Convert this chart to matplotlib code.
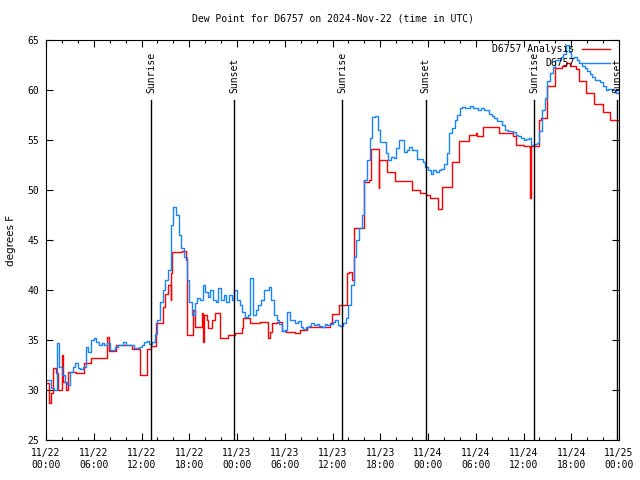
import numpy as np
import matplotlib
matplotlib.use("Agg")
import matplotlib.pyplot as plt
import matplotlib.dates as mdates

plt.rcParams['font.family'] = ['DejaVu Sans Mono', 'DejaVu Sans']
plt.rcParams['font.size'] = 7

start = np.datetime64('2024-11-22T00:00')

# D6757 obs, every 20 minutes from 11/22 00:00 UTC (deg F)
obs_step_min = 20
obs_vals = [
    31.0, 31.0, 30.2, 30.0, 34.7, 32.3, 31.5, 30.8, 30.5, 31.8,
    32.3, 32.7, 32.2, 32.1, 32.3, 34.3, 33.8, 35.0, 35.2, 34.8,
    34.5, 34.7, 34.5, 34.7, 34.0, 34.0, 34.3, 34.5, 34.5, 34.8,
    34.5, 34.5, 34.5, 34.2, 34.2, 34.3, 34.5, 34.8, 34.9, 34.6,
    34.8, 35.6, 37.0, 38.8, 40.0, 41.0, 42.0, 46.5, 48.3, 47.5,
    45.5, 44.2, 43.3, 41.0, 38.8, 37.5,
    38.7, 39.2, 39.0, 40.5, 39.8, 39.3, 40.0, 39.0, 38.8, 40.2,
    39.0, 39.5, 38.8, 39.5, 39.0, 40.0, 39.0, 38.5, 37.8, 37.3,
    37.5, 41.2, 37.5, 38.0, 38.5, 39.0, 40.0, 40.0, 40.3, 39.0,
    37.5, 37.0, 36.6, 35.9, 36.0, 37.8, 37.0, 37.0, 36.7, 36.9,
    36.3, 36.1, 36.3, 36.4, 36.7, 36.5, 36.6, 36.4, 36.3, 36.6,
    36.5, 36.6, 36.8, 37.0, 36.5,
    36.4, 36.7, 37.2, 38.5, 40.5, 43.3, 45.0, 46.2, 47.5, 51.0,
    53.0, 55.2, 57.3, 57.4, 56.0, 54.8, 54.8, 53.7, 53.0, 53.3,
    53.2, 54.2, 55.0, 55.0, 53.8, 54.0, 54.3, 54.0, 54.0, 53.1,
    53.1, 52.8, 52.3, 52.0, 51.6, 52.0, 51.8, 52.0, 52.1, 52.6,
    53.7, 55.7, 56.2, 57.0, 57.5, 58.2, 58.3, 58.2, 58.2, 58.4,
    58.2, 58.2, 58.0,
    58.2, 58.0, 58.0, 57.6, 57.4, 57.2, 56.9, 56.9, 56.5, 56.0,
    55.9, 55.9, 55.8, 55.5, 55.4, 55.2, 55.0, 55.1, 55.2, 54.5,
    54.6, 54.7, 55.9, 58.0, 59.2, 60.9, 61.7, 62.3, 63.0, 63.0,
    63.3, 63.6, 64.5, 63.8, 63.2, 63.3, 63.0, 62.7, 62.4, 62.2,
    61.9, 61.6, 61.3, 61.0, 61.0, 60.8, 60.4, 60.0, 60.1, 60.1,
    60.0, 59.7, 59.7,
]

# analysis, step changes (hours since start, value)
ana_hours = [0.0, 0.38, 0.67, 0.92, 1.21, 1.51, 2.05, 2.18, 2.51, 2.76,
             3.81, 4.77, 5.7, 7.7, 7.92, 8.76, 10.85, 11.81, 12.73, 13.15,
             13.86, 14.7, 14.91, 15.37, 15.66, 15.75, 15.87, 17.13, 17.55, 17.76,
             18.5, 18.7, 19.56, 19.77, 19.9, 20.2, 20.4, 20.8, 21.2, 21.9,
             22.9, 23.75, 24.6, 24.8, 25.6, 26.9, 27.9, 28.1, 28.4, 29.0,
             29.6, 30.2, 31.3, 31.9, 32.8, 35.7, 35.9, 36.8, 37.8, 38.1,
             38.4, 38.7, 39.9, 40.0, 40.6, 40.8, 41.8, 41.9, 42.8, 43.9,
             46.0, 47.0, 47.8, 48.2, 49.2, 49.8, 51.0, 51.9, 53.1, 54.0,
             54.1, 54.95, 56.96, 58.7, 59.0, 60.0, 60.8, 60.9, 61.9, 62.2,
             63.0, 64.0, 64.8, 65.4, 65.8, 66.6, 67.0, 67.9, 68.9, 69.95,
             70.9, 72.0]
ana_vals = [30.7, 28.7, 29.7, 32.2, 31.7, 30.0, 33.5, 30.8, 30.0, 31.8,
            31.7, 32.7, 33.2, 35.3, 33.9, 34.5, 34.1, 31.5, 34.1, 34.4,
            36.7, 38.3, 39.6, 40.5, 39.0, 41.7, 43.8, 43.9, 43.0, 35.5,
            38.0, 36.3, 37.7, 34.8, 37.5, 37.0, 36.2, 37.0, 37.7, 35.2,
            35.5, 35.7, 36.2, 37.2, 36.7, 36.8, 35.2, 35.8, 36.7, 36.8,
            35.9, 35.8, 35.7, 36.0, 36.3, 36.7, 37.6, 38.5, 41.7, 41.8,
            41.0, 46.2, 51.0, 50.8, 51.0, 54.1, 50.2, 53.0, 51.8, 50.9,
            50.0, 49.7, 49.5, 49.2, 48.1, 50.3, 52.8, 54.9, 55.5, 55.7,
            55.4, 56.3, 55.7, 55.4, 54.5, 54.4, 49.2, 54.4, 57.0, 57.2,
            60.4, 62.2, 62.4, 62.7, 62.4, 62.1, 60.9, 59.7, 58.6, 57.8,
            57.0, 57.0]

sun_hours = [13.2, 23.67, 37.24, 47.71, 61.37, 71.8]
sun_labels = ['Sunrise', 'Sunset', 'Sunrise', 'Sunset', 'Sunrise', 'Sunset']


def to_time(hours):
    return start + (np.array(hours) * 60).astype(int).astype('timedelta64[m]')


obs_t = start + np.arange(len(obs_vals)) * np.timedelta64(obs_step_min, 'm')
ana_t = to_time(ana_hours)
sun_t = to_time(sun_hours)

fig = plt.figure(figsize=(6.4, 4.8), dpi=100)
ax = fig.add_axes([46/640, 1 - 440/480, 573/640, 400/480])

ax.plot(ana_t, ana_vals, color='#ff0000', lw=1.0, drawstyle='steps-post', label='D6757 Analysis')
ax.plot(obs_t, obs_vals, color='#1585ff', lw=1.0, drawstyle='steps-post', label='D6757')

for t, lab in zip(sun_t, sun_labels):
    ax.plot([t, t], [59, 25], color='black', lw=1.0)
    ax.text(t, 59.7, lab, rotation=90, ha='center', va='bottom')

ax.set_xlim(start, start + np.timedelta64(72, 'h'))
ax.set_ylim(25, 65)
ax.set_yticks(np.arange(25, 66, 5))
ax.xaxis.set_major_locator(mdates.HourLocator(byhour=range(0, 24, 6)))
ax.xaxis.set_minor_locator(mdates.HourLocator(interval=2))
ax.xaxis.set_major_formatter(mdates.DateFormatter('%m/%d\n%H:%M'))
ax.tick_params(which='both', direction='in', top=True, right=True, width=0.8)
ax.tick_params(which='major', length=5)
ax.tick_params(which='minor', length=2.5)
ax.tick_params(axis='x', pad=6)
ax.tick_params(axis='y', pad=5)
for s in ax.spines.values():
    s.set_linewidth(0.8)

ax.set_title('Dew Point for D6757 on 2024-Nov-22 (time in UTC)', fontsize=7, pad=13)
ax.set_ylabel('degrees F', family='DejaVu Sans', fontsize=7.5, labelpad=8)

ax.legend(loc='upper right', bbox_to_anchor=(0.999, 1.011), frameon=False, fontsize=7,
          markerfirst=False, handlelength=2.8, handletextpad=0.8, labelspacing=0.4)

fig.savefig('out.png', dpi=100)
